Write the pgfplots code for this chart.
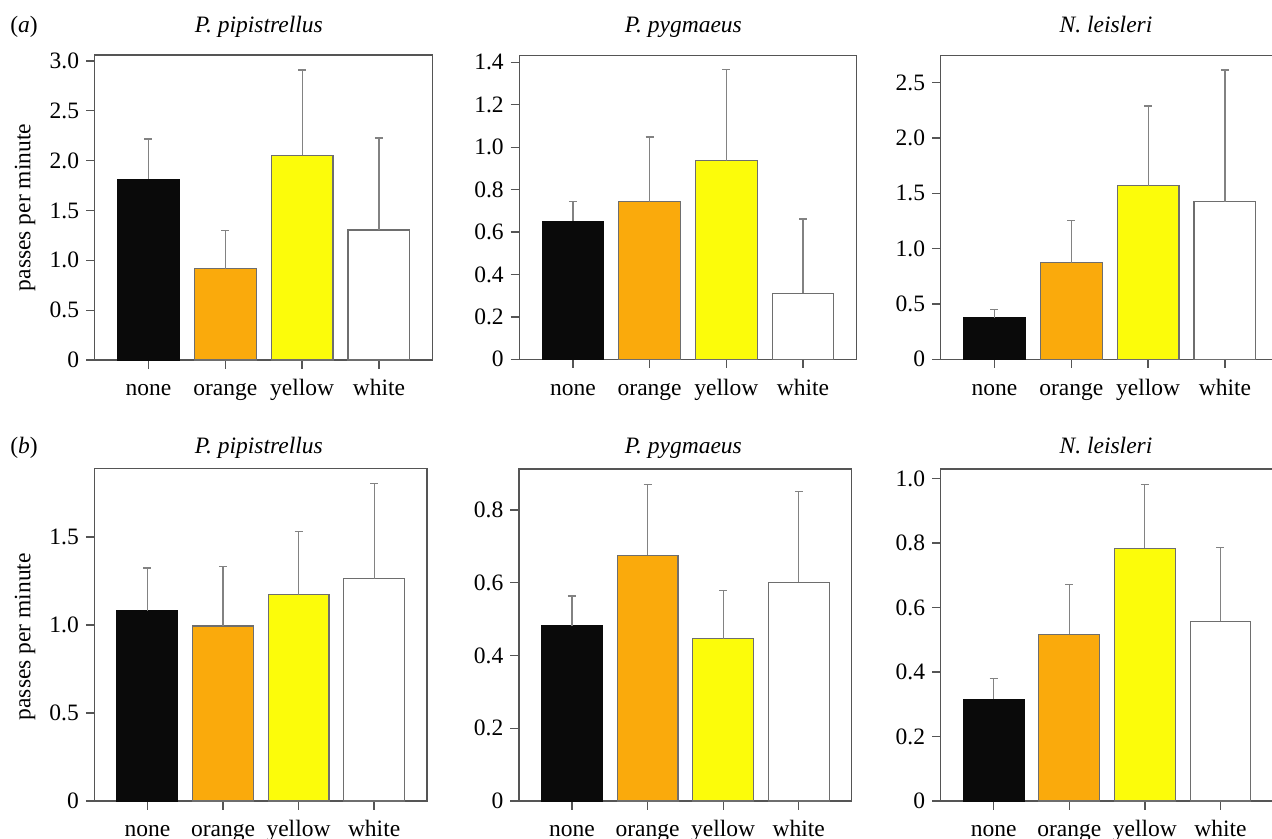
\documentclass[border=0pt]{standalone}
\usepackage{pgfplots}
\pgfplotsset{compat=1.18}
\usepackage{fontspec}
\setmainfont{Liberation Serif}
\definecolor{cblack}{RGB}{10,10,10}
\definecolor{corange}{RGB}{250,170,12}
\definecolor{cyellow}{RGB}{252,252,10}
\definecolor{axgray}{RGB}{85,85,85}
\definecolor{errgray}{RGB}{130,130,130}
\definecolor{edgegray}{RGB}{110,110,110}
\newcommand\tfont{\fontsize{11.75}{14}\selectfont}
\pgfplotsset{
  panel/.style={
    scale only axis, anchor=north west,
    ymin=0, xmin=-0.7, xmax=3.7,
    xtick={0,1,2,3}, xticklabels={none,orange,yellow,white},
    tick pos=left, tick align=outside,
    major tick length=4.3pt,
    axis line style={draw=axgray, line width=0.65pt},
    every tick/.style={draw=axgray, line width=0.65pt},
    ybar, bar width=0.805, bar shift=0pt,
    tick label style={font=\tfont},
    xticklabel style={text height=9.8pt, text depth=4.2pt, yshift=-0.3pt},
    /pgf/number format/assume math mode=true,
    clip=false,
  },
  errs/.style={
    line width=0.55pt,
    error bars/.cd, y dir=plus, y explicit, error mark=|,
    error bar style={line width=0.6pt, color=errgray},
    error mark options={errgray, line width=0.6pt, mark size=2pt},
  },
}
\begin{document}
\begin{tikzpicture}
% ---------- row (a) ----------
\begin{axis}[panel, at={(47.35pt,-27.5pt)}, width=169pt, height=152.5pt,
  ymax=3.06, ytick={0,0.5,1,1.5,2,2.5,3}, yticklabels={0,0.5,1.0,1.5,2.0,2.5,3.0}]
\addplot[fill=cblack, draw=cblack, errs] coordinates {(0,1.815) +- (0,0.402)};
\addplot[fill=corange, draw=edgegray, errs] coordinates {(1,0.916) +- (0,0.381)};
\addplot[fill=cyellow, draw=edgegray, errs] coordinates {(2,2.053) +- (0,0.857)};
\addplot[fill=white, draw=edgegray, errs] coordinates {(3,1.304) +- (0,0.923)};
\end{axis}
\begin{axis}[panel, at={(259.65pt,-27.65pt)}, width=168.7pt, height=152pt,
  ymax=1.433, ytick={0,0.2,0.4,0.6,0.8,1,1.2,1.4}, yticklabels={0,0.2,0.4,0.6,0.8,1.0,1.2,1.4}]
\addplot[fill=cblack, draw=cblack, errs] coordinates {(0,0.651) +- (0,0.094)};
\addplot[fill=corange, draw=edgegray, errs] coordinates {(1,0.742) +- (0,0.306)};
\addplot[fill=cyellow, draw=edgegray, errs] coordinates {(2,0.935) +- (0,0.432)};
\addplot[fill=white, draw=edgegray, errs] coordinates {(3,0.311) +- (0,0.350)};
\end{axis}
\begin{axis}[panel, at={(470.35pt,-27.85pt)}, width=169pt, height=151.8pt,
  ymax=2.742, ytick={0,0.5,1,1.5,2,2.5}, yticklabels={0,0.5,1.0,1.5,2.0,2.5}]
\addplot[fill=cblack, draw=cblack, errs] coordinates {(0,0.376) +- (0,0.076)};
\addplot[fill=corange, draw=edgegray, errs] coordinates {(1,0.873) +- (0,0.380)};
\addplot[fill=cyellow, draw=edgegray, errs] coordinates {(2,1.567) +- (0,0.721)};
\addplot[fill=white, draw=edgegray, errs] coordinates {(3,1.425) +- (0,1.188)};
\end{axis}
% ---------- row (b) ----------
\begin{axis}[panel, at={(47.25pt,-234.15pt)}, width=166.25pt, height=166.35pt,
  ymax=1.89, ytick={0,0.5,1,1.5}, yticklabels={0,0.5,1.0,1.5}]
\addplot[fill=cblack, draw=cblack, errs] coordinates {(0,1.081) +- (0,0.243)};
\addplot[fill=corange, draw=edgegray, errs] coordinates {(1,0.994) +- (0,0.337)};
\addplot[fill=cyellow, draw=edgegray, errs] coordinates {(2,1.172) +- (0,0.358)};
\addplot[fill=white, draw=edgegray, errs] coordinates {(3,1.263) +- (0,0.540)};
\end{axis}
\begin{axis}[panel, at={(259.5pt,-234.5pt)}, width=166.35pt, height=166pt,
  ymax=0.913, ytick={0,0.2,0.4,0.6,0.8}, yticklabels={0,0.2,0.4,0.6,0.8}]
\addplot[fill=cblack, draw=cblack, errs] coordinates {(0,0.482) +- (0,0.082)};
\addplot[fill=corange, draw=edgegray, errs] coordinates {(1,0.676) +- (0,0.194)};
\addplot[fill=cyellow, draw=edgegray, errs] coordinates {(2,0.446) +- (0,0.134)};
\addplot[fill=white, draw=edgegray, errs] coordinates {(3,0.602) +- (0,0.249)};
\end{axis}
\begin{axis}[panel, at={(470.35pt,-234.5pt)}, width=166.35pt, height=166pt,
  ymax=1.029, ytick={0,0.2,0.4,0.6,0.8,1}, yticklabels={0,0.2,0.4,0.6,0.8,1.0}]
\addplot[fill=cblack, draw=cblack, errs] coordinates {(0,0.316) +- (0,0.064)};
\addplot[fill=corange, draw=edgegray, errs] coordinates {(1,0.517) +- (0,0.153)};
\addplot[fill=cyellow, draw=edgegray, errs] coordinates {(2,0.784) +- (0,0.196)};
\addplot[fill=white, draw=edgegray, errs] coordinates {(3,0.557) +- (0,0.228)};
\end{axis}
% ---------- labels ----------
\node[anchor=base west, inner sep=0pt, font=\tfont] at (5pt,-16.5pt) {(\textit{a})};
\node[anchor=base west, inner sep=0pt, font=\tfont] at (5pt,-226.5pt) {(\textit{b})};
\node[anchor=base, inner sep=0pt, font=\tfont\itshape] at (129.4pt,-16.5pt) {P. pipistrellus};
\node[anchor=base, inner sep=0pt, font=\tfont\itshape] at (341.65pt,-16.5pt) {P. pygmaeus};
\node[anchor=base, inner sep=0pt, font=\tfont\itshape] at (553pt,-16.5pt) {N. leisleri};
\node[anchor=base, inner sep=0pt, font=\tfont\itshape] at (129.4pt,-226.5pt) {P. pipistrellus};
\node[anchor=base, inner sep=0pt, font=\tfont\itshape] at (341.65pt,-226.5pt) {P. pygmaeus};
\node[anchor=base, inner sep=0pt, font=\tfont\itshape] at (553pt,-226.5pt) {N. leisleri};
\node[rotate=90, inner sep=0pt, font=\tfont] at (12.5pt,-103.75pt) {passes per minute};
\node[rotate=90, inner sep=0pt, font=\tfont] at (12.5pt,-318.35pt) {passes per minute};
\pgfresetboundingbox
\path (0pt,0pt) rectangle (636pt,-419.5pt);
\end{tikzpicture}
\end{document}
